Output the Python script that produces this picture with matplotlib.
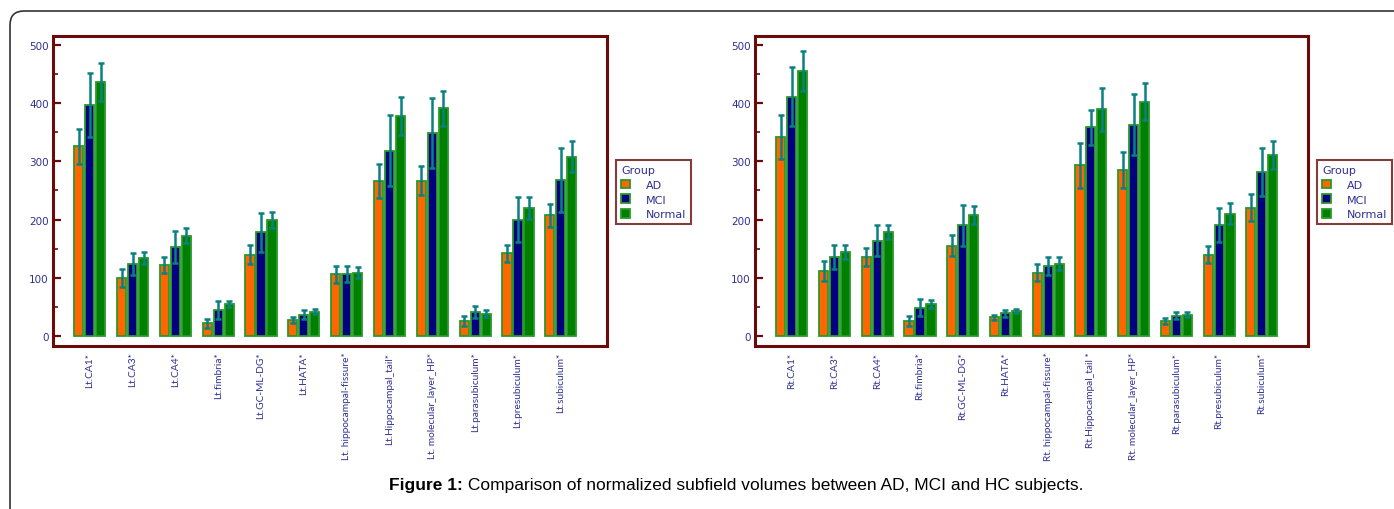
import numpy as np
import matplotlib.pyplot as plt
from matplotlib.patches import Patch, FancyBboxPatch

# subfield names (same order on both sides)
left_labels = ['Lt.CA1*', 'Lt.CA3*', 'Lt.CA4*', 'Lt.fimbria*', 'Lt.GC-ML-DG*', 'Lt.HATA*',
               'Lt. hippocampal-fissure*', 'Lt.Hippocampal_tail*', 'Lt. molecular_layer_HP*',
               'Lt.parasubiculum*', 'Lt.presubiculum*', 'Lt.subiculum*']
right_labels = ['Rt.CA1*', 'Rt.CA3*', 'Rt.CA4*', 'Rt.fimbria*', 'Rt.GC-ML-DG*', 'Rt.HATA*',
                'Rt. hippocampal-fissure*', 'Rt.Hippocampal_tail *', 'Rt. molecular_layer_HP*',
                'Rt.parasubiculum*', 'Rt.presubiculum*', 'Rt.subiculum*']
groups = ['AD', 'MCI', 'Normal']

# left hemisphere means and SE
lt_ad = [326, 100, 122, 22, 140, 28, 106, 266, 267, 26, 142, 207]
lt_mci = [397, 124, 153, 45, 178, 37, 106, 318, 348, 41, 200, 268]
lt_nc = [436, 134, 172, 55, 199, 42, 109, 378, 391, 38, 220, 308]
lt_ad_err = [30, 15, 14, 8, 16, 5, 15, 29, 25, 9, 15, 20]
lt_mci_err = [55, 19, 27, 16, 33, 7, 14, 61, 60, 10, 38, 55]
lt_nc_err = [33, 11, 13, 5, 14, 4, 10, 33, 30, 6, 19, 26]

# right hemisphere means and SE
rt_ad = [342, 112, 136, 26, 155, 32, 109, 293, 285, 26, 140, 220]
rt_mci = [411, 136, 164, 49, 190, 39, 120, 358, 363, 35, 190, 281]
rt_nc = [455, 145, 179, 55, 208, 43, 124, 389, 402, 37, 210, 310]
rt_ad_err = [38, 17, 16, 8, 18, 4, 15, 38, 31, 5, 15, 23]
rt_mci_err = [51, 20, 27, 15, 35, 6, 15, 30, 53, 6, 29, 41]
rt_nc_err = [35, 12, 12, 7, 15, 4, 11, 37, 32, 4, 18, 24]

colors = ['#ff6600', '#000080', '#008000']
edge = '#2a9a2a'
maroon = '#6b0a0a'
navy = '#303090'

W, H = 1394, 510
fig = plt.figure(figsize=(W / 100, H / 100), dpi=100)

# outer rounded frame (only top-left corner is visible)
frame = FancyBboxPatch((0.10, -2.0), 20, 2.0 + 5.10 - 0.12, transform=fig.dpi_scale_trans,
                       boxstyle='round,pad=0,rounding_size=0.14', fc='none', ec='#333333', lw=1.2)
fig.patches.append(frame)


def panel(rect, labels, means, errs, legend_x):
    ax = fig.add_axes(rect)
    x = np.arange(len(labels))
    off = 0.257
    for i in range(3):
        ax.bar(x + (i - 1) * off, means[i], width=0.215, color=colors[i],
               edgecolor=edge, linewidth=1.3, zorder=2)
        ax.errorbar(x + (i - 1) * off, means[i], yerr=errs[i], fmt='none',
                    ecolor='#0a8080', elinewidth=1.8, capsize=2.2, capthick=1.8, zorder=3)
    ax.set_xlim(-0.86, 12.08)
    ax.set_ylim(-17, 515)
    ax.set_yticks([0, 100, 200, 300, 400, 500])
    ax.set_yticks(np.arange(50, 500, 100), minor=True)
    ax.set_xticks(x)
    ax.set_xticklabels(labels, rotation=90, fontsize=7.3, color=navy, family='Lato')
    ax.tick_params(axis='x', length=0, pad=4)
    ax.tick_params(axis='y', which='major', direction='in', length=6, width=1.6,
                   color=maroon, labelsize=7.5, labelcolor=navy, pad=3)
    ax.tick_params(axis='y', which='minor', direction='in', length=3.5, width=1.2, color=maroon)
    for s in ax.spines.values():
        s.set_color(maroon)
        s.set_linewidth(2.2)
    handles = [Patch(facecolor=colors[i], edgecolor=edge, linewidth=1.3) for i in range(3)]
    leg = ax.legend(handles, groups, title='Group', loc='upper left',
                    bbox_to_anchor=(legend_x / W, 1 - 161 / H), bbox_transform=fig.transFigure,
                    borderaxespad=0, fancybox=False, fontsize=8, title_fontsize=8,
                    labelcolor=navy, handlelength=0.8, handleheight=0.8, handletextpad=1.4,
                    labelspacing=0.42, borderpad=0.45, alignment='left')
    leg.get_title().set_color(navy)
    leg.get_frame().set_edgecolor(maroon)
    leg.get_frame().set_linewidth(1.5)
    return ax


panel([53 / W, 1 - 347 / H, (607 - 53) / W, 310 / H], left_labels,
      [lt_ad, lt_mci, lt_nc], [lt_ad_err, lt_mci_err, lt_nc_err], 616)
panel([755 / W, 1 - 347 / H, (1308 - 755) / W, 310 / H], right_labels,
      [rt_ad, rt_mci, rt_nc], [rt_ad_err, rt_mci_err, rt_nc_err], 1317)

# caption: bold prefix followed by plain text, centred together
cap_y = 1 - 486 / H
t1 = fig.text(0, cap_y, 'Figure 1:', ha='left', va='center', fontsize=12.5,
              family='Liberation Sans', weight='bold')
t2 = fig.text(0, cap_y, ' Comparison of normalized subfield volumes between AD, MCI and HC subjects.',
              ha='left', va='center', fontsize=12.5, family='Liberation Sans')
r = fig.canvas.get_renderer()
w1 = t1.get_window_extent(r).width
w2 = t2.get_window_extent(r).width
start = 736 - (w1 + w2) / 2
t1.set_x(start / W)
t2.set_x((start + w1) / W)

fig.savefig('out.png', dpi=100)
